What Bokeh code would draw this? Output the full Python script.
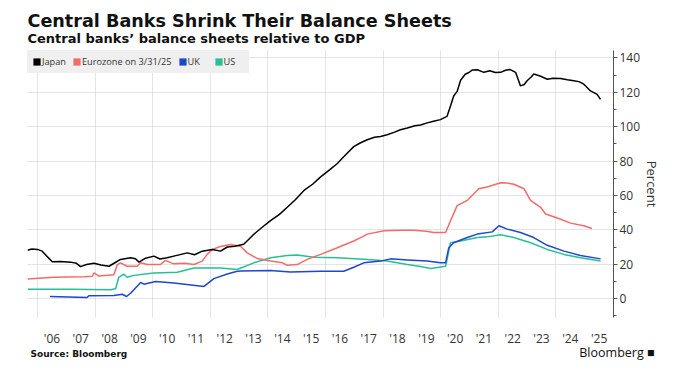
from bokeh.plotting import figure
from bokeh.models import (ColumnDataSource, FixedTicker, Legend, LegendItem, Title, Range1d)
from bokeh.embed import file_html
from bokeh.resources import INLINE

# ---------------- data (decimal year, % of GDP) ----------------
japan_year = [2005.65, 2005.8, 2006.0, 2006.16, 2006.3, 2006.51, 2006.8, 2007.15, 2007.35, 2007.49,
              2007.7, 2007.96, 2008.2, 2008.48, 2008.7, 2008.88, 2009.23, 2009.4, 2009.52, 2009.75,
              2010.04, 2010.25, 2010.5, 2010.8, 2011.2, 2011.45, 2011.72, 2012.07, 2012.35, 2012.59,
              2012.85, 2013.16, 2013.51, 2013.8, 2014.09, 2014.4, 2014.67, 2014.95, 2015.25, 2015.55,
              2015.83, 2016.15, 2016.41, 2016.58, 2016.75, 2016.98, 2017.2, 2017.45, 2017.7, 2017.91,
              2018.14, 2018.4, 2018.6, 2018.84, 2019.1, 2019.3, 2019.53, 2019.75, 2019.99, 2020.11,
              2020.22, 2020.34, 2020.45, 2020.57, 2020.69, 2020.85, 2020.98, 2021.1, 2021.27, 2021.5,
              2021.7, 2021.9, 2022.08, 2022.25, 2022.4, 2022.6, 2022.7, 2022.77, 2022.9, 2023.0,
              2023.15, 2023.23, 2023.45, 2023.7, 2023.9, 2024.16, 2024.4, 2024.62, 2024.8, 2024.97,
              2025.1, 2025.2, 2025.35, 2025.43, 2025.55]
japan_pct = [28.1, 28.8, 28.6, 27.6, 25.0, 21.4, 21.6, 21.2, 20.5, 18.6,
             19.8, 20.6, 19.5, 18.8, 21.0, 22.8, 23.7, 23.2, 21.2, 23.5,
             24.7, 23.0, 23.7, 25.0, 26.6, 25.5, 27.6, 28.6, 27.6, 30.0,
             30.5, 31.6, 37.4, 41.5, 45.3, 49.0, 53.1, 57.5, 62.9, 66.5,
             70.8, 75.0, 78.6, 81.6, 84.5, 88.4, 90.5, 92.4, 93.8, 94.3,
             95.3, 96.8, 98.2, 99.2, 100.5, 101.0, 102.2, 103.2, 104.1, 105.1,
             106.0, 112.0, 117.8, 120.5, 127.0, 130.5, 131.5, 133.0, 133.1, 131.6,
             132.5, 131.5, 131.6, 132.8, 133.3, 131.6, 127.0, 123.7, 124.5, 126.7,
             129.0, 130.6, 129.5, 127.6, 128.2, 128.0, 127.3, 126.7, 126.2, 124.7,
             122.5, 120.8, 119.5, 118.8, 115.9]

euro_year = [2005.65, 2006.57, 2007.61, 2007.9, 2007.96, 2008.13, 2008.65, 2008.77, 2008.88, 2009.11,
             2009.46, 2009.58, 2009.81, 2010.27, 2010.44, 2010.73, 2011.1, 2011.43, 2011.72, 2011.89,
             2012.07, 2012.35, 2012.7, 2013.05, 2013.28, 2013.63, 2014.09, 2014.5, 2014.67, 2015.02,
             2015.36, 2015.83, 2016.41, 2016.98, 2017.27, 2017.45, 2018.03, 2018.6, 2019.07, 2019.5,
             2019.76, 2020.17, 2020.34, 2020.57, 2020.92, 2021.15, 2021.32, 2021.61, 2022.08, 2022.3,
             2022.54, 2022.89, 2023.12, 2023.47, 2023.64, 2024.05, 2024.51, 2024.97, 2025.25]
euro_pct = [11.4, 12.4, 12.7, 13.0, 14.9, 13.1, 13.9, 19.8, 20.8, 18.8,
            18.8, 20.8, 19.8, 19.8, 22.2, 20.2, 20.5, 19.8, 21.8, 25.7,
            28.6, 30.3, 31.4, 30.4, 26.6, 23.3, 21.8, 20.8, 19.4, 19.8,
            22.8, 25.7, 29.6, 33.5, 35.9, 37.5, 39.4, 39.7, 39.8, 39.2,
            38.4, 38.4, 45.3, 54.1, 57.1, 61.0, 63.9, 64.9, 67.4, 67.2,
            66.5, 63.9, 57.1, 53.1, 49.2, 46.9, 43.9, 42.4, 40.8]

uk_year = [2006.43, 2007.72, 2007.78, 2008.65, 2008.94, 2009.09, 2009.23, 2009.58, 2009.69, 2010.1,
           2010.73, 2011.78, 2012.12, 2012.59, 2012.9, 2013.05, 2014.09, 2014.78, 2015.83, 2016.63,
           2016.98, 2017.33, 2017.91, 2018.26, 2018.84, 2019.53, 2019.99, 2020.17, 2020.28, 2020.45,
           2020.92, 2021.27, 2021.79, 2022.02, 2022.31, 2022.77, 2023.23, 2023.7, 2024.28, 2024.85,
           2025.55]
uk_pct = [1.2, 0.6, 1.6, 1.8, 2.5, 1.2, 3.1, 9.4, 8.4, 10.0,
          9.0, 7.1, 11.6, 14.3, 15.8, 16.0, 16.3, 15.5, 15.9, 15.9,
          18.2, 20.8, 21.8, 23.1, 22.5, 21.8, 20.8, 20.8, 29.6, 32.5,
          35.5, 37.5, 38.8, 42.4, 40.4, 38.4, 35.5, 31.0, 27.6, 25.1,
          23.1]

us_year = [2005.65, 2007.15, 2008.53, 2008.71, 2008.82, 2008.99, 2009.11, 2009.34, 2010.04, 2010.85,
           2011.43, 2011.89, 2012.35, 2012.93, 2013.51, 2014.09, 2014.67, 2015.02, 2015.59, 2016.41,
           2017.33, 2018.14, 2018.84, 2019.3, 2019.65, 2020.17, 2020.34, 2020.69, 2021.27, 2021.61,
           2022.08, 2022.54, 2023.12, 2023.7, 2024.28, 2024.85, 2025.55]
us_pct = [5.5, 5.5, 5.1, 5.7, 12.4, 14.3, 12.4, 13.5, 14.9, 15.3,
          17.8, 17.8, 17.8, 16.9, 20.8, 23.7, 25.1, 25.3, 24.1, 23.7,
          22.9, 21.8, 19.8, 18.6, 17.5, 18.8, 32.5, 33.5, 35.5, 35.9,
          37.1, 35.5, 32.5, 28.6, 25.7, 23.7, 21.8]

series_names = ["Japan", "Eurozone on 3/31/25", "UK", "US"]
series_colors = ["#000000", "#f26b6b", "#1f47c9", "#27bf94"]

year_ticks = list(range(2006, 2026))
year_labels = ["'%02d" % (y % 100) for y in year_ticks]
grid_years = list(range(2006, 2026, 2))
y_ticks = [0, 20, 40, 60, 80, 100, 120, 140]
y_minor = [-10, 10, 30, 50, 70, 90, 110, 130]

FONT = "Open Sans"
HEAD = "DejaVu Sans"

p = figure(frame_width=586, frame_height=267,
           x_range=Range1d(2005.65, 2026.0), y_range=Range1d(-11, 144.3),
           output_backend="svg", toolbar_location=None, y_axis_location="right",
           min_border_left=27, min_border_right=53, min_border_top=50, min_border_bottom=50,
           background_fill_color="white", border_fill_color="white", outline_line_color=None)

data = [(japan_year, japan_pct), (euro_year, euro_pct), (uk_year, uk_pct), (us_year, us_pct)]
# draw order: US, UK, Eurozone, Japan on top
for idx in [3, 2, 1, 0]:
    xs, ys = data[idx]
    p.line(x=xs, y=ys, line_color=series_colors[idx], line_width=1.5)

# legend swatches: hidden bar renderers (only their square legend glyph is shown)
items = []
for (xs, ys), name, col in zip(data, series_names, series_colors):
    src = ColumnDataSource(dict(x=[xs[0]], y=[ys[0]]))
    r = p.vbar(x="x", top="y", width=0.1, source=src, fill_color=col, line_color=None)
    r.visible = False
    items.append(LegendItem(label=name, renderers=[r]))

legend = Legend(items=items, orientation="horizontal", location="top_left",
                background_fill_color="#efefef", background_fill_alpha=1.0,
                border_line_color="#efefef", border_line_width=1,
                margin=0, padding=4, spacing=6,
                glyph_width=9, glyph_height=9, label_height=11, label_standoff=1,
                inactive_fill_alpha=0.0,
                label_text_font=FONT, label_text_font_size="9.2px", label_text_color="#333333")
p.add_layout(legend, "center")

# x axis
xa = p.xaxis[0]
xa.ticker = FixedTicker(ticks=[y + 0.5 for y in year_ticks])
xa.major_label_overrides = {y + 0.5: lab for y, lab in zip(year_ticks, year_labels)}
xa.axis_line_color = None
xa.major_tick_line_color = None
xa.minor_tick_line_color = None
xa.major_tick_out = 0
xa.major_tick_in = 0
xa.minor_tick_out = 0
xa.minor_tick_in = 0
xa.major_label_standoff = 12
xa.major_label_text_font = FONT
xa.major_label_text_font_size = "12px"
xa.major_label_text_color = "#333333"

# y axis (right)
ya = p.yaxis[0]
ya.ticker = FixedTicker(ticks=y_ticks, minor_ticks=y_minor)
ya.axis_line_color = "#555555"
ya.major_tick_line_color = "#555555"
ya.minor_tick_line_color = "#555555"
ya.major_tick_in = 0
ya.major_tick_out = 4
ya.minor_tick_in = 0
ya.minor_tick_out = 3
ya.major_label_standoff = 2
ya.major_label_text_font = FONT
ya.major_label_text_font_size = "12px"
ya.major_label_text_color = "#333333"
ya.axis_label = "Percent"
ya.axis_label_text_font = FONT
ya.axis_label_text_font_size = "13px"
ya.axis_label_text_font_style = "normal"
ya.axis_label_text_color = "#333333"
ya.axis_label_standoff = 0

p.xgrid.ticker = FixedTicker(ticks=grid_years)
p.xgrid.grid_line_color = "#c8c8c8"
p.xgrid.grid_line_dash = "1 1"
p.ygrid.ticker = FixedTicker(ticks=y_ticks)
p.ygrid.grid_line_color = "#c8c8c8"
p.ygrid.grid_line_dash = "1 1"

# header
p.add_layout(Title(text="Central banks\u2019 balance sheets relative to GDP", text_font=HEAD,
                   text_font_size="13px", text_font_style="bold", text_color="#111111",
                   standoff=10, offset=0), "above")
p.add_layout(Title(text="Central Banks Shrink Their Balance Sheets", text_font=HEAD,
                   text_font_size="17.6px", text_font_style="bold", text_color="#111111",
                   standoff=-15, offset=0), "above")

# footer: source note (left) and wordmark (right) on one line
p.add_layout(Title(text="Source:  Bloomberg", text_font=HEAD, text_font_size="9px",
                   text_font_style="bold", text_color="#111111", align="left",
                   vertical_align="bottom", standoff=-3.7, offset=3), "below")
p.add_layout(Title(text="Bloomberg \u25A0", text_font=FONT, text_font_size="12.5px",
                   text_font_style="normal", text_color="#111111", align="right",
                   vertical_align="top", standoff=-27, offset=-41), "below")

open("out.html", "w").write(file_html(p, INLINE))
